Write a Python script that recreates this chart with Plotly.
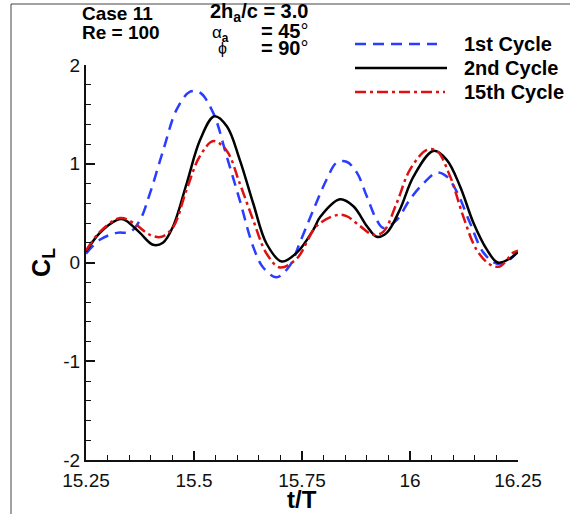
import plotly.graph_objects as go

# ---------------- data ----------------
t_cycle1 = [15.25, 15.282, 15.321, 15.352, 15.375, 15.398, 15.429, 15.46, 15.491, 15.514,
            15.545, 15.576, 15.606, 15.637, 15.66, 15.691, 15.722, 15.745, 15.776, 15.807,
            15.83, 15.853, 15.877, 15.90, 15.923, 15.938, 15.969, 16.0, 16.031, 16.062,
            16.085, 16.108, 16.139, 16.17, 16.2, 16.224, 16.25]
cl_cycle1 = [0.09, 0.23, 0.30, 0.31, 0.43, 0.70, 1.14, 1.55, 1.73, 1.72,
             1.51, 1.07, 0.63, 0.16, -0.05, -0.15, -0.03, 0.20, 0.53, 0.84,
             1.01, 1.02, 0.91, 0.67, 0.43, 0.35, 0.43, 0.64, 0.80, 0.91,
             0.87, 0.72, 0.40, 0.10, -0.01, 0.01, 0.11]

t_cycle2 = [15.25, 15.282, 15.321, 15.333, 15.344, 15.375, 15.405, 15.428, 15.451, 15.483,
            15.514, 15.547, 15.576, 15.606, 15.637, 15.668, 15.703, 15.738, 15.776, 15.792,
            15.838, 15.869, 15.90, 15.923, 15.946, 15.977, 16.008, 16.054, 16.085, 16.116,
            16.147, 16.178, 16.203, 16.231, 16.25]
cl_cycle2 = [0.11, 0.30, 0.43, 0.44, 0.42, 0.30, 0.18, 0.20, 0.36, 0.80,
             1.24, 1.48, 1.38, 1.04, 0.60, 0.19, 0.01, 0.10, 0.33, 0.46,
             0.64, 0.57, 0.37, 0.26, 0.30, 0.54, 0.87, 1.13, 1.04, 0.77,
             0.40, 0.13, 0.00, 0.04, 0.11]

t_cycle15 = [15.25, 15.282, 15.329, 15.36, 15.398, 15.425, 15.452, 15.483, 15.514, 15.545,
             15.576, 15.606, 15.637, 15.668, 15.699, 15.738, 15.784, 15.83, 15.853, 15.884,
             15.915, 15.938, 15.969, 16.0, 16.039, 16.062, 16.093, 16.123, 16.154, 16.185,
             16.208, 16.239, 16.25]
cl_cycle15 = [0.12, 0.31, 0.45, 0.40, 0.28, 0.26, 0.36, 0.74, 1.08, 1.23,
              1.13, 0.80, 0.43, 0.09, -0.05, 0.04, 0.37, 0.48, 0.47, 0.37,
              0.28, 0.31, 0.60, 0.94, 1.14, 1.13, 0.87, 0.47, 0.13, -0.02,
              -0.04, 0.10, 0.12]

series_names = ["1st Cycle", "2nd Cycle", "15th Cycle"]
x_tickvals = [15.25, 15.5, 15.75, 16.0, 16.25]
x_ticktext = ["15.25", "15.5", "15.75", "16", "16.25"]
y_tickvals = [-2, -1, 0, 1, 2]
y_ticktext = ["-2", "-1", "0", "1", "2"]
x_title = "t/T"

# ---------------- styling ----------------
W, H = 575, 514
L, R, T, B = 86, 518, 65, 460  # plot area in pixels
FONT = "Liberation Sans, Arial, Helvetica, sans-serif"
BLUE = "#2a3cff"
BLACK = "#000000"
RED = "#dd1111"
DASH_BLUE = "11px,7px"
DASH_RED = "11px,4px,3px,4px"


def px(xp):
    return (xp - L) / (R - L)


def py(yp):
    return (B - yp) / (B - T)


fig = go.Figure()
styles = [(t_cycle1, cl_cycle1, BLUE, DASH_BLUE),
          (t_cycle2, cl_cycle2, BLACK, "solid"),
          (t_cycle15, cl_cycle15, RED, DASH_RED)]
for (tx, cy, col, dash), name in zip(styles, series_names):
    fig.add_trace(go.Scatter(x=tx, y=cy, mode="lines", name=name,
                             line=dict(color=col, width=2.5, dash=dash,
                                       shape="spline", smoothing=1.0),
                             showlegend=False))

axis_common = dict(showgrid=False, zeroline=False, showline=True, linecolor="#111",
                   linewidth=2, ticks="inside", tickcolor="#111", tickwidth=1.5,
                   ticklen=9, mirror=False, automargin=False,
                   tickfont=dict(family=FONT, size=19, color="#111"))

fig.update_xaxes(range=[15.25, 16.25], tickvals=x_tickvals, ticktext=x_ticktext,
                 ticklabelstandoff=2,
                 minor=dict(dtick=0.05, tick0=15.25, ticks="inside", ticklen=5,
                            tickcolor="#111", tickwidth=1),
                 **axis_common)
fig.update_yaxes(range=[-2, 2], tickvals=y_tickvals, ticktext=y_ticktext,
                 minor=dict(dtick=0.2, tick0=-2, ticks="inside", ticklen=5,
                            tickcolor="#111", tickwidth=1),
                 title=dict(text="<b>C<sub>L</sub></b>", font=dict(family=FONT, size=25, color="#000"),
                            standoff=6),
                 **axis_common)

# legend drawn manually
leg_rows = [44, 68, 92]
leg_ends = [437, 447, 445]
leg_cols = [BLUE, BLACK, RED]
leg_dash = [DASH_BLUE, "solid", DASH_RED]
shapes = []
for yr, xe, col, dash in zip(leg_rows, leg_ends, leg_cols, leg_dash):
    shapes.append(dict(type="line", xref="paper", yref="paper",
                       x0=px(355), x1=px(xe), y0=py(yr), y1=py(yr),
                       line=dict(color=col, width=2.5, dash=dash)))
# outer frame (top and left borders)
shapes.append(dict(type="line", xref="paper", yref="paper", x0=px(11), x1=px(570),
                   y0=py(4), y1=py(4), line=dict(color="#444", width=1)))
shapes.append(dict(type="line", xref="paper", yref="paper", x0=px(11), x1=px(11),
                   y0=py(4), y1=py(514), line=dict(color="#444", width=1)))

annotations = []
for yr, name in zip(leg_rows, series_names):
    annotations.append(dict(text="<b>%s</b>" % name, xref="paper", yref="paper",
                            x=px(463), y=py(yr), xanchor="left", yanchor="middle",
                            showarrow=False, borderpad=0,
                            font=dict(family=FONT, size=20, color="#000")))


def note(text, xl, yc, size=19, anchor="left"):
    annotations.append(dict(text=text, xref="paper", yref="paper", x=px(xl), y=py(yc),
                            xanchor=anchor, yanchor="middle", showarrow=False, borderpad=0,
                            font=dict(family=FONT, size=size, color="#000")))


note("<b>Case 11</b>", 81, 14)
note("<b>Re = 100</b>", 81, 32)
note("<b>2h<sub>a</sub>/c = 3.0</b>", 309, 13, size=20, anchor="right")
note("α<sub><b>a</b></sub>", 211, 34, size=17)
note("<b>= 45</b>°", 309, 31, size=20, anchor="right")
note("ϕ", 217, 48, size=16)
note("<b>= 90</b>°", 309, 48, size=20, anchor="right")
note("<b>%s</b>" % x_title, 302, 499, size=24, anchor="center")

fig.update_layout(width=W, height=H, autosize=False,
                  margin=dict(l=L, r=W - R, t=T, b=H - B, pad=0, autoexpand=False),
                  paper_bgcolor="white", plot_bgcolor="white",
                  shapes=shapes, annotations=annotations,
                  font=dict(family=FONT, color="#000"))

fig.write_html("out.html")
